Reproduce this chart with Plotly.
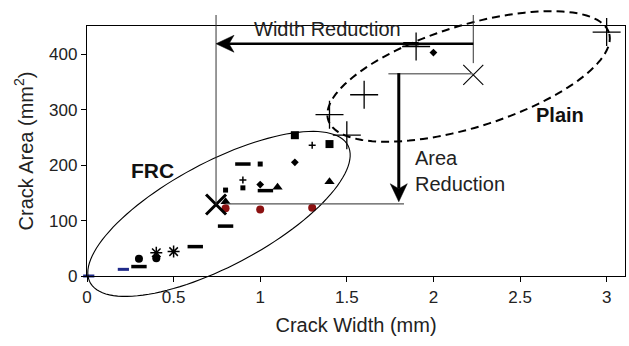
import numpy as np
import plotly.graph_objects as go

# ---------------- data ----------------
blue_dash_x = [0.01, 0.21]
blue_dash_y = [0, 12]
black_dash_x = [0.30, 0.625, 0.80, 0.90, 1.03, 1.87]
black_dash_y = [17, 53, 90, 202, 154, 419]
circle_x = [0.30, 0.40]
circle_y = [31, 32]
asterisk_x = [0.40, 0.50]
asterisk_y = [42, 44]
small_sq_x = [0.80, 0.90, 1.00]
small_sq_y = [155, 159, 202]
big_sq_x = [1.20, 1.40]
big_sq_y = [254, 238]
small_plus_x = [0.90, 1.30]
small_plus_y = [173, 236]
diamond_x = [1.00, 1.20, 2.00]
diamond_y = [165, 205, 403]
triangle_x = [0.80, 1.10, 1.40]
triangle_y = [134, 160, 170]
red_x = [0.80, 1.00, 1.30]
red_y = [122, 120, 123]
frc_mean_x = [0.745]
frc_mean_y = [129]
plain_x = [1.40, 1.50, 1.60, 1.90, 3.00]
plain_y = [291, 254, 327, 414, 440]
plain_mean_x = [2.23]
plain_mean_y = [363]

x_ticks = [0, 0.5, 1, 1.5, 2, 2.5, 3]
x_tick_labels = ["0", "0.5", "1", "1.5", "2", "2.5", "3"]
y_ticks = [0, 100, 200, 300, 400]

X_MAX = 3.106
Y_MAX = 451

# ---------------- layout geometry ----------------
W, H = 629, 346
ML, MR, MT, MB = 87, 4, 26, 70
PW = W - ML - MR
PH = H - MT - MB

FONT = "Liberation Sans, Arial, Helvetica, sans-serif"

fig = go.Figure()


def add(x, y, symbol, size, color="black", lw=0, lcolor=None):
    fig.add_trace(go.Scatter(
        x=x, y=y, mode="markers", cliponaxis=False, showlegend=False,
        hoverinfo="skip",
        marker=dict(symbol=symbol, size=size, color=color,
                    line=dict(width=lw, color=lcolor or color)),
    ))


add(blue_dash_x, blue_dash_y, "line-ew", 8, "#1f2a8a", 3)
add(black_dash_x, black_dash_y, "line-ew", 11, "black", 3.5)
add(circle_x, circle_y, "circle", 8)
add(asterisk_x, asterisk_y, "asterisk-open", 10, "black", 1.5)
add(small_sq_x, small_sq_y, "square", 5)
add(big_sq_x, big_sq_y, "square", 8)
add(small_plus_x, small_plus_y, "cross-thin-open", 5, "black", 1.5)
add(diamond_x, diamond_y, "diamond", 6)
add(triangle_x, triangle_y, "triangle-up", 9)
add(red_x, red_y, "circle", 8, "#8b1111")
add(frc_mean_x, frc_mean_y, "x-thin-open", 20, "black", 3)
add(plain_x, plain_y, "cross-thin-open", 20, "black", 1.3)
add(plain_mean_x, plain_mean_y, "x-thin-open", 20, "black", 1.1)


def xp(v):
    return v / X_MAX


def yp(v):
    return v / Y_MAX


def path_from_px(x0, y0, pts):
    """Closed path of pixel offsets (dx right, dy up) around data point (x0, y0)."""
    bx, by = xp(x0), yp(y0)
    return "M " + " L ".join(f"{bx + dx / PW:.5f},{by + dy / PH:.5f}" for dx, dy in pts) + " Z"


def ellipse_path(cx, cy, a_px, b_px, ang_deg, n=120):
    th = np.deg2rad(ang_deg)
    t = np.linspace(0, 2 * np.pi, n)
    u = a_px * np.cos(t)
    v = b_px * np.sin(t)
    dx = u * np.cos(th) - v * np.sin(th)
    dy = u * np.sin(th) + v * np.cos(th)
    return path_from_px(cx, cy, list(zip(dx, dy)))


shapes = []
# FRC ellipse (solid)
shapes.append(dict(type="path", xref="paper", yref="paper",
                   path=ellipse_path(0.762, 112, 146, 52, 28),
                   line=dict(color="black", width=1.1)))
# Plain ellipse (dashed)
shapes.append(dict(type="path", xref="paper", yref="paper",
                   path=ellipse_path(2.203, 360, 147, 51, 17.2),
                   line=dict(color="black", width=2, dash="8px,5px")))

TOP_EXT = 1 + 11 / PH  # guide lines rise above the frame
# vertical guide through FRC mean
shapes.append(dict(type="line", xref="x", yref="paper",
                   x0=frc_mean_x[0], x1=frc_mean_x[0],
                   y0=yp(frc_mean_y[0]), y1=TOP_EXT,
                   line=dict(color="#333", width=1)))
# vertical guide above plain mean
shapes.append(dict(type="line", xref="x", yref="paper",
                   x0=plain_mean_x[0], x1=plain_mean_x[0],
                   y0=yp(plain_mean_y[0] + 21), y1=TOP_EXT,
                   line=dict(color="#333", width=1)))
# grey horizontal at plain mean level
shapes.append(dict(type="line", xref="x", yref="y",
                   x0=1.74, x1=plain_mean_x[0], y0=365, y1=365,
                   line=dict(color="#777", width=1.5)))
# horizontal at FRC mean level
shapes.append(dict(type="line", xref="x", yref="y",
                   x0=0.80, x1=1.83, y0=130, y1=130,
                   line=dict(color="#555", width=1.2)))

# ---- Width reduction arrow (pointing left) ----
WR_Y = 419
HEAD_L, HEAD_W, NOTCH = 18, 8.5, 13
shapes.append(dict(type="line", xref="x", yref="y",
                   x0=frc_mean_x[0] + NOTCH / PW * X_MAX, x1=plain_mean_x[0],
                   y0=WR_Y, y1=WR_Y, line=dict(color="black", width=2.6)))
shapes.append(dict(type="path", xref="paper", yref="paper",
                   path=path_from_px(frc_mean_x[0], WR_Y,
                                     [(0, 0), (HEAD_L, HEAD_W), (NOTCH, 0), (HEAD_L, -HEAD_W)]),
                   fillcolor="black", line=dict(color="black", width=0.5)))

# ---- Area reduction arrow (pointing down) ----
AR_X, AR_TOP, AR_TIP = 1.80, 366, 134
shapes.append(dict(type="line", xref="x", yref="y",
                   x0=AR_X, x1=AR_X, y0=AR_TIP + NOTCH / PH * Y_MAX, y1=AR_TOP,
                   line=dict(color="black", width=3)))
shapes.append(dict(type="path", xref="paper", yref="paper",
                   path=path_from_px(AR_X, AR_TIP,
                                     [(0, 0), (-HEAD_W, HEAD_L), (0, NOTCH), (HEAD_W, HEAD_L)]),
                   fillcolor="black", line=dict(color="black", width=0.5)))

annotations = [
    dict(x=1.39, y=446, xref="x", yref="y", text="Width Reduction",
         showarrow=False, font=dict(family=FONT, size=20, color="#222")),
    dict(x=1.88, y=190, xref="x", yref="y", text="Area<br>Reduction",
         showarrow=False, xanchor="left", align="left",
         font=dict(family=FONT, size=20, color="#222")),
    dict(x=2.73, y=291, xref="x", yref="y", text="<b>Plain</b>",
         showarrow=False, font=dict(family=FONT, size=20, color="#111")),
    dict(x=0.38, y=191, xref="x", yref="y", text="<b>FRC</b>",
         showarrow=False, font=dict(family=FONT, size=21, color="#111")),
]

axis_common = dict(showline=True, mirror=True, linecolor="black", linewidth=1.3,
                   ticks="outside", ticklen=5, tickwidth=1.3, tickcolor="black",
                   showgrid=False, zeroline=False, automargin=False,
                   tickfont=dict(family=FONT, size=17, color="#222"))

fig.update_layout(
    width=W, height=H,
    margin=dict(l=ML, r=MR, t=MT, b=MB, autoexpand=False),
    paper_bgcolor="white", plot_bgcolor="white",
    shapes=shapes, annotations=annotations,
    xaxis=dict(range=[0, X_MAX], tickvals=x_ticks, ticktext=x_tick_labels,
               title=dict(text="Crack Width (mm)", standoff=12,
                          font=dict(family=FONT, size=20, color="#222")),
               **axis_common),
    yaxis=dict(range=[0, Y_MAX], tickvals=y_ticks,
               title=dict(text="Crack Area (mm<sup>2</sup>)", standoff=10,
                          font=dict(family=FONT, size=20, color="#222")),
               **axis_common),
)

fig.write_html("out.html",
               config={"displayModeBar": False},
               post_script="document.body.style.margin='0px';document.body.style.overflow='hidden';")
